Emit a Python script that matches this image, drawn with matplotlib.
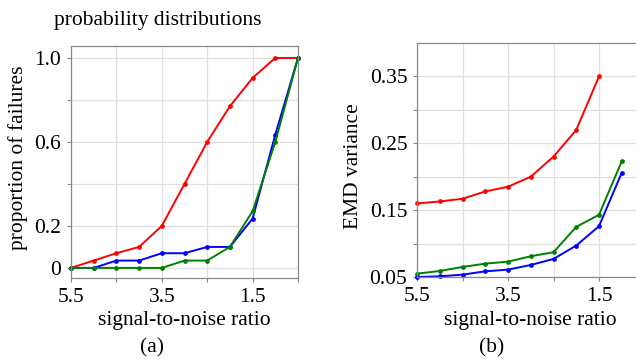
import numpy as np
import matplotlib
matplotlib.use("Agg")
import matplotlib.pyplot as plt

plt.rcParams['font.family'] = ['Liberation Serif', 'DejaVu Serif']

# signal-to-noise ratio values (x)
snr = [5.5, 5.0, 4.5, 4.0, 3.5, 3.0, 2.5, 2.0, 1.5, 1.0, 0.5]

# (a) proportion of failures
fail_red = [0.0, 0.035, 0.07, 0.10, 0.20, 0.40, 0.60, 0.77, 0.905, 1.0, 1.0]
fail_blue = [0.0, 0.0, 0.035, 0.035, 0.07, 0.07, 0.10, 0.10, 0.235, 0.635, 1.0]
fail_green = [0.0, 0.0, 0.0, 0.0, 0.0, 0.035, 0.035, 0.10, 0.27, 0.60, 1.0]

# (b) EMD variance
snr_red_b = [5.5, 5.0, 4.5, 4.0, 3.5, 3.0, 2.5, 2.0, 1.5]
var_red = [0.160, 0.163, 0.167, 0.178, 0.185, 0.200, 0.230, 0.270, 0.350]
snr_b = [5.5, 5.0, 4.5, 4.0, 3.5, 3.0, 2.5, 2.0, 1.5, 1.0]
var_green = [0.055, 0.059, 0.065, 0.070, 0.073, 0.081, 0.087, 0.125, 0.143, 0.223]
var_blue = [0.050, 0.051, 0.0535, 0.0585, 0.061, 0.068, 0.077, 0.097, 0.126, 0.206]

xticks = [5.5, 3.5, 1.5]
xgrid = [5.5, 4.5, 3.5, 2.5, 1.5, 0.5]

a_yticks = [0.0, 0.2, 0.4, 0.6, 0.8, 1.0]
a_ylabels = ['0', '0.2', '', '0.6', '', '1.0']
b_yticks = [0.05, 0.10, 0.15, 0.20, 0.25, 0.30, 0.35]
b_ylabels = ['0.05', '', '0.15', '', '0.25', '', '0.35']

FS = 15.5
W, H = 636, 360
fig = plt.figure(figsize=(W / 100, H / 100), dpi=100)


def px_axes(l, t, r, b):
    return fig.add_axes([l / W, 1 - b / H, (r - l) / W, (b - t) / H])


def style(ax):
    for s in ax.spines.values():
        s.set_color('#888888')
        s.set_linewidth(0.9)
    ax.grid(True, color='#e0e0e0', linewidth=0.9)
    ax.set_axisbelow(True)
    ax.tick_params(length=3, color='#888888', labelsize=FS, pad=4)
    ax.set_xticks(xgrid)
    ax.set_xticklabels(['5.5', '', '3.5', '', '1.5', ''])
    ax.set_xlim(5.5, 0.5)


def draw(ax, x, y, c):
    ax.plot(x, y, color=c, linewidth=1.4, marker='o', markersize=2.4, clip_on=False)


ax1 = px_axes(71, 46, 298, 278)
style(ax1)
draw(ax1, snr, fail_red, 'red')
draw(ax1, snr, fail_blue, 'blue')
draw(ax1, snr, fail_green, 'green')
ax1.set_ylim(-0.048, 1.057)
ax1.set_yticks(a_yticks)
ax1.set_yticklabels(a_ylabels)

ax2 = px_axes(417, 43, 644.5, 277)
style(ax2)
draw(ax2, snr_red_b, var_red, 'red')
draw(ax2, snr_b, var_green, 'green')
draw(ax2, snr_b, var_blue, 'blue')
ax2.set_ylim(0.05, 0.40)
ax2.set_yticks(b_yticks)
ax2.set_yticklabels(b_ylabels)

fig.text(158 / W, 1 - 20 / H, 'probability distributions', fontsize=FS, ha='center', va='center')
fig.text(18 / W, 1 - 158 / H, 'proportion of failures', fontsize=FS, ha='center', va='center', rotation=90)
fig.text(354 / W, 1 - 166 / H, 'EMD variance', fontsize=FS, ha='center', va='center', rotation=90)
fig.text(184 / W, 1 - 320 / H, 'signal-to-noise ratio', fontsize=FS, ha='center', va='center')
fig.text(530 / W, 1 - 320 / H, 'signal-to-noise ratio', fontsize=FS, ha='center', va='center')
fig.text(152 / W, 1 - 348 / H, '(a)', fontsize=FS, ha='center', va='center')
fig.text(492 / W, 1 - 348 / H, '(b)', fontsize=FS, ha='center', va='center')

fig.savefig('out.png', dpi=100)
